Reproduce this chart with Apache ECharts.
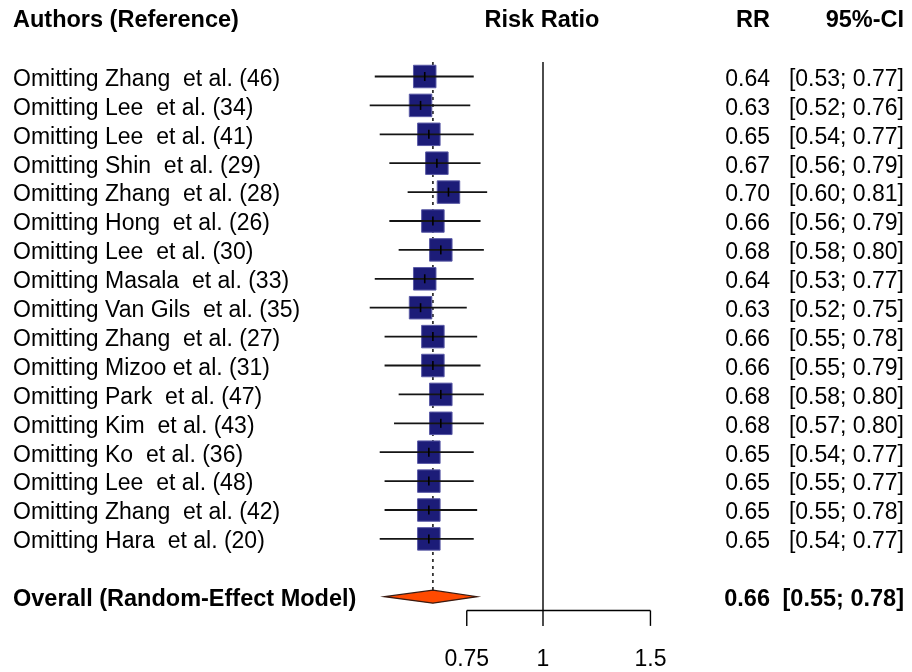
<!DOCTYPE html>
<html><head><meta charset="utf-8">
<script src="https://cdn.jsdelivr.net/npm/echarts@6/dist/echarts.min.js"></script>
<style>html,body{margin:0;padding:0;background:#fff}#c{width:912px;height:672px}</style>
</head><body><div id="c"></div>
<script>
const studyLabels = [
  'Omitting Zhang  et al. (46)', 'Omitting Lee  et al. (34)', 'Omitting Lee  et al. (41)',
  'Omitting Shin  et al. (29)', 'Omitting Zhang  et al. (28)', 'Omitting Hong  et al. (26)',
  'Omitting Lee  et al. (30)', 'Omitting Masala  et al. (33)', 'Omitting Van Gils  et al. (35)',
  'Omitting Zhang  et al. (27)', 'Omitting Mizoo et al. (31)', 'Omitting Park  et al. (47)',
  'Omitting Kim  et al. (43)', 'Omitting Ko  et al. (36)', 'Omitting Lee  et al. (48)',
  'Omitting Zhang  et al. (42)', 'Omitting Hara  et al. (20)'
];
const rrValues = [0.64, 0.63, 0.65, 0.67, 0.70, 0.66, 0.68, 0.64, 0.63, 0.66, 0.66, 0.68, 0.68, 0.65, 0.65, 0.65, 0.65];
const lowerCI  = [0.53, 0.52, 0.54, 0.56, 0.60, 0.56, 0.58, 0.53, 0.52, 0.55, 0.55, 0.58, 0.57, 0.54, 0.55, 0.55, 0.54];
const upperCI  = [0.77, 0.76, 0.77, 0.79, 0.81, 0.79, 0.80, 0.77, 0.75, 0.78, 0.79, 0.80, 0.80, 0.77, 0.77, 0.78, 0.77];
const overallLabel = 'Overall (Random-Effect Model)';
const overallRR = 0.66;
const overallLower = 0.55;
const overallUpper = 0.78;
const nullValue = 1;
const tickValues = [0.75, 1, 1.5];
const tickLabels = ['0.75', '1', '1.5'];
const headers = ['Authors (Reference)', 'Risk Ratio', 'RR', '95%-CI'];

const FONT = '"Liberation Sans", Arial, Helvetica, sans-serif';
const L = Math.log;
const fmt = v => v.toFixed(2);
const overallRow = studyLabels.length + 2;
const axisRow = overallRow + 0.48;
const RR_RIGHT = 770, CI_RIGHT = 904, LABEL_X = 13, TXT_DY = 3;
const REG = '23px ' + FONT, BOLD = 'bold 23.5px ' + FONT;

function txt(x, y, s, align, font) {
  return { type: 'text', style: { x: x, y: y, text: s, fill: '#000', font: font,
    align: align, textAlign: align, verticalAlign: 'middle', textVerticalAlign: 'middle' } };
}
function headerText(x, s, align) {
  return { type: 'text', x: x, y: 21, style: { text: s, font: BOLD, fill: '#000', align: align, textAlign: align, verticalAlign: 'middle', textVerticalAlign: 'middle' } };
}

const chart = echarts.init(document.getElementById('c'));
chart.setOption({
  animation: false,
  backgroundColor: '#fff',
  grid: { left: 331, right: 210, top: 47.6, bottom: 17.5 },
  xAxis: { type: 'value', min: -0.8, max: 0.6, show: false },
  yAxis: { type: 'value', min: 0, max: 21, inverse: true, show: false },
  graphic: [
    headerText(LABEL_X, headers[0], 'left'),
    headerText(542, headers[1], 'center'),
    headerText(RR_RIGHT, headers[2], 'right'),
    headerText(CI_RIGHT, headers[3], 'right')
  ],
  series: [
    { // reference lines
      type: 'custom', silent: true, clip: false,
      data: [[L(nullValue), L(overallRR)]],
      renderItem: function (params, api) {
        const a = api.coord([api.value(0), 0.5]);
        const b = api.coord([api.value(0), axisRow]);
        const c = api.coord([api.value(1), 0.5]);
        const d = api.coord([api.value(1), overallRow]);
        return { type: 'group', children: [
          { type: 'line', shape: { x1: a[0], y1: a[1], x2: b[0], y2: b[1] }, style: { stroke: '#000', lineWidth: 1.4 } },
          { type: 'line', shape: { x1: c[0], y1: c[1], x2: d[0], y2: d[1] - 6 }, style: { stroke: '#333', lineWidth: 1.8, lineDash: [3, 4] } }
        ] };
      }
    },
    { // studies
      type: 'custom', silent: true, clip: false,
      data: studyLabels.map((s, i) => [L(rrValues[i]), i + 1, L(lowerCI[i]), L(upperCI[i])]),
      renderItem: function (params, api) {
        const i = params.dataIndex;
        const row = api.value(1);
        const p = api.coord([api.value(0), row]);
        const lo = api.coord([api.value(2), row]);
        const hi = api.coord([api.value(3), row]);
        const s = 22.5;
        return { type: 'group', children: [
          { type: 'rect', shape: { x: p[0] - s / 2, y: p[1] - s / 2, width: s, height: s }, style: { fill: '#1c1c78', stroke: '#5a5aa6', lineWidth: 1 } },
          { type: 'line', shape: { x1: lo[0], y1: p[1], x2: hi[0], y2: p[1] }, style: { stroke: '#141414', lineWidth: 1.8 } },
          { type: 'line', shape: { x1: p[0], y1: p[1] - 4.5, x2: p[0], y2: p[1] + 4.5 }, style: { stroke: '#000', lineWidth: 1.6 } },
          txt(LABEL_X, p[1] + TXT_DY, studyLabels[i], 'left', REG),
          txt(RR_RIGHT, p[1] + TXT_DY, fmt(rrValues[i]), 'right', REG),
          txt(CI_RIGHT, p[1] + TXT_DY, '[' + fmt(lowerCI[i]) + '; ' + fmt(upperCI[i]) + ']', 'right', REG)
        ] };
      }
    },
    { // overall diamond
      type: 'custom', silent: true, clip: false,
      data: [[L(overallRR), overallRow, L(overallLower), L(overallUpper)]],
      renderItem: function (params, api) {
        const row = api.value(1);
        const p = api.coord([api.value(0), row]);
        const lo = api.coord([api.value(2), row]);
        const hi = api.coord([api.value(3), row]);
        const h = 6.5;
        return { type: 'group', children: [
          { type: 'polygon', shape: { points: [[lo[0], p[1]], [p[0], p[1] - h], [hi[0], p[1]], [p[0], p[1] + h]] }, style: { fill: '#ff4a00', stroke: '#3a1a10', lineWidth: 1.2 } },
          txt(LABEL_X, p[1] + TXT_DY, overallLabel, 'left', BOLD),
          txt(RR_RIGHT, p[1] + TXT_DY, fmt(overallRR), 'right', BOLD),
          txt(CI_RIGHT, p[1] + TXT_DY, '[' + fmt(overallLower) + '; ' + fmt(overallUpper) + ']', 'right', BOLD)
        ] };
      }
    },
    { // x axis
      type: 'custom', silent: true, clip: false,
      data: tickValues.map(v => [L(v)]),
      renderItem: function (params, api) {
        const i = params.dataIndex;
        const t = api.coord([api.value(0), axisRow]);
        const tb = api.coord([api.value(0), axisRow + 0.53]);
        const lab = api.coord([api.value(0), axisRow + 1.6]);
        const children = [
          { type: 'line', shape: { x1: t[0], y1: t[1], x2: tb[0], y2: tb[1] }, style: { stroke: '#000', lineWidth: 1.4 } },
          txt(lab[0], lab[1] + 3, tickLabels[i], 'center', REG)
        ];
        if (i === 0) {
          const e = api.coord([L(tickValues[tickValues.length - 1]), axisRow]);
          children.push({ type: 'line', shape: { x1: t[0], y1: t[1], x2: e[0], y2: e[1] }, style: { stroke: '#000', lineWidth: 1.4 } });
        }
        return { type: 'group', children: children };
      }
    }
  ]
});
</script>
</body></html>
